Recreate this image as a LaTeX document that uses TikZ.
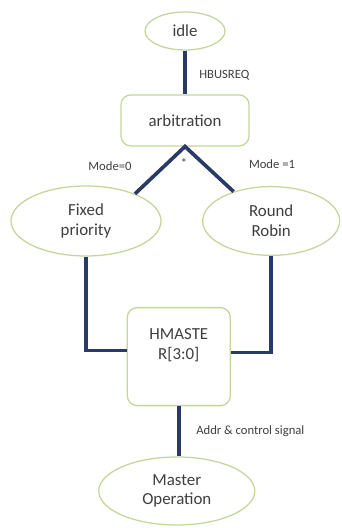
\documentclass[tikz,border=0pt]{standalone}
\usepackage{fontspec}
\setmainfont{Carlito}
\usetikzlibrary{shapes.geometric}

\definecolor{olive}{HTML}{C3D69B}
\definecolor{navy}{HTML}{2A3A66}
\definecolor{txt}{HTML}{3F3F3F}

\tikzstyle{state} = [ draw=olive,line width=0.9pt,ellipse,fill=white,
                      text=txt,align=center,inner sep=0pt,font=\large]
\tikzstyle{block} = [ draw=olive,line width=0.9pt,rectangle,fill=white,
                      text=txt,align=center,rounded corners=7pt,font=\large]
\tikzstyle{wire}  = [ draw=navy,line width=2.6pt]
\tikzstyle{lbl}   = [ text=txt,font=\small,inner sep=0pt]

\begin{document}
\begin{tikzpicture}
  \useasboundingbox (0,0) rectangle (8.55,13.2);

  \node[state,minimum width=2.0cm,minimum height=0.95cm] at (4.625,12.425) (idle) {idle};
  \node[block,minimum width=3.2cm,minimum height=1.275cm] at (4.625,10.19) (arb) {arbitration};
  \node[state,minimum width=3.75cm,minimum height=1.75cm] at (2.15,7.675) (fixed) {Fixed\\ priority};
  \node[state,minimum width=3.425cm,minimum height=1.72cm] at (6.78,7.675) (robin) {Round\\ Robin};
  \node[block,minimum width=2.575cm,minimum height=2.45cm,anchor=north] at (4.47,5.525) (hm) {HMASTE\\ R[3:0]\\[0.3em]};
  \node[state,minimum width=3.9cm,minimum height=1.7cm] at (4.42,0.925) (master) {Master\\ Operation};

  \node[lbl,anchor=west] at (4.975,11.32) (busreq) {HBUSREQ};
  \node[lbl] at (2.75,9.05) (mode0) {Mode=0};
  \node[lbl] at (6.8,9.1) (mode1) {Mode =1};
  \node[lbl] at (4.6,9.13) (star) {*};
  \node[lbl,anchor=west] at (4.9,2.425) (addr) {Addr \& control signal};

  \draw[wire] (idle.south) -- (arb.north);
  \draw[wire] (fixed.29) -- (arb.south) -- (robin.142);
  \draw[wire] (fixed.south) |- ([yshift=0.15cm]hm.west);
  \draw[wire] (robin.south) |- ([yshift=0.1cm]hm.east);
  \draw[wire] (hm.south) -- (hm.south |- master.north);
\end{tikzpicture}
\end{document}
